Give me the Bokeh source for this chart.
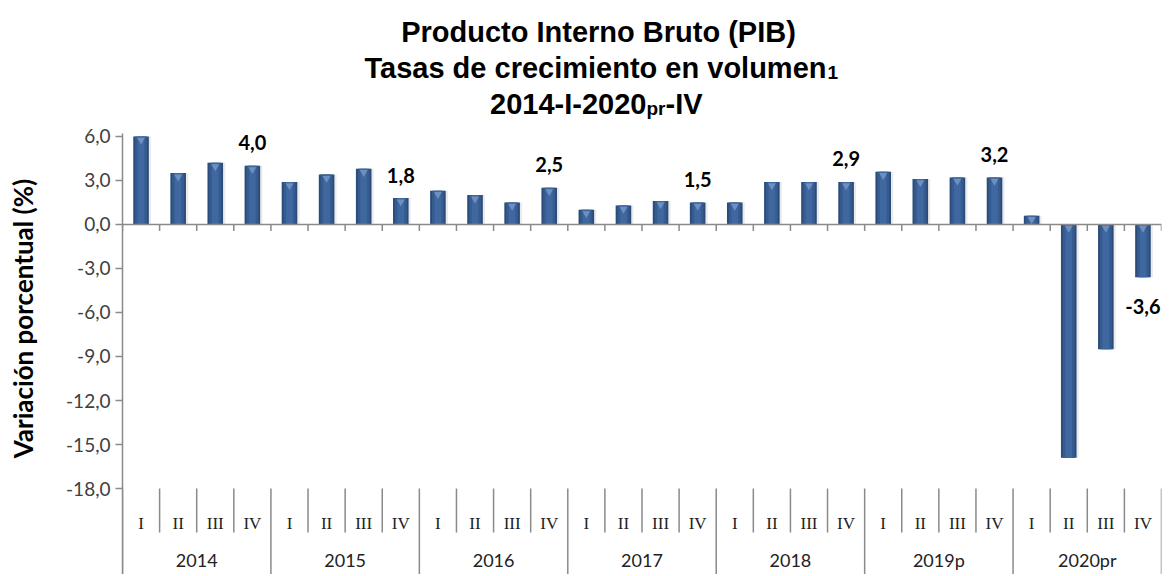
import math
from bokeh.plotting import figure
from bokeh.layouts import column, row
from bokeh.models import FactorRange, Range1d, FixedTicker, Span, ColumnDataSource
from bokeh.transform import dodge
from bokeh.embed import file_html
from bokeh.resources import INLINE
from bokeh.core.properties import value

# ---------------- data ----------------
years = ["2014", "2015", "2016", "2017", "2018", "2019p", "2020pr"]
quarters = ["I", "II", "III", "IV"]
growth = [
    6.0, 3.5, 4.2, 4.0,      # 2014
    2.9, 3.4, 3.8, 1.8,      # 2015
    2.3, 2.0, 1.5, 2.5,      # 2016
    1.0, 1.3, 1.6, 1.5,      # 2017
    1.5, 2.9, 2.9, 2.9,      # 2018
    3.6, 3.1, 3.2, 3.2,      # 2019p
    0.6, -15.9, -8.5, -3.6,  # 2020pr
]
labeled_quarter = "IV"
y_ticks = [6, 3, 0, -3, -6, -9, -12, -15, -18]
y_tick_labels = ["6,0", "3,0", "0,0", "-3,0", "-6,0", "-9,0", "-12,0", "-15,0", "-18,0"]
title_line1 = "Producto Interno Bruto (PIB)"
title_line2 = "Tasas de crecimiento en volumen"
title_line2_sub = "1"
title_line3_a = "2014-I-2020"
title_line3_sub = "pr"
title_line3_b = "-IV"
y_title = "Variación porcentual  (%)"

# ---------------- layout constants ----------------
TOTAL_W = 1168
TITLE_H = 123
BODY_H = 451
YLAB_W = 44
MAIN_W = TOTAL_W - YLAB_W
Y_LO, Y_HI = -23.86, 6.2
Y_AXIS_MIN = -18
AX = "#8a8a8a"

# ---------------- title figure ----------------
t = figure(width=TOTAL_W, height=TITLE_H, x_range=Range1d(0, TOTAL_W),
           y_range=Range1d(TITLE_H, 0), x_axis_type=None, y_axis_type=None,
           output_backend="svg", toolbar_location=None,
           min_border_left=0, min_border_right=0, min_border_top=0, min_border_bottom=0)
t.outline_line_color = None
t.xgrid.visible = False
t.ygrid.visible = False

def ttext(txt, x, y, size, align):
    t.text(x=[x], y=[y], text=[txt], text_font=value("Liberation Sans"),
           text_font_style="bold", text_font_size=size, text_color="black",
           text_align=align, text_baseline="alphabetic")

ttext(title_line1, 598, 31, "29px", "center")
ttext(title_line2, 826, 67, "29px", "right")
ttext(title_line2_sub, 827, 72, "19px", "left")
ttext(title_line3_a, 646, 103, "29px", "right")
ttext(title_line3_sub, 646, 108, "19px", "left")
ttext(title_line3_b, 665, 103, "29px", "left")

# ---------------- y-title figure ----------------
yl = figure(width=YLAB_W, height=BODY_H, x_range=Range1d(0, YLAB_W),
            y_range=Range1d(0, BODY_H), x_axis_type=None, y_axis_type=None,
            output_backend="svg", toolbar_location=None,
            min_border_left=0, min_border_right=0, min_border_top=0, min_border_bottom=0)
yl.outline_line_color = None
yl.xgrid.visible = False
yl.ygrid.visible = False
yl.text(x=[22], y=[265], text=[y_title], angle=math.pi / 2,
        text_font=value("Lato"), text_font_style="bold", text_font_size="26px",
        text_color="black", text_align="center", text_baseline="middle")

# ---------------- main figure ----------------
factors = [(y, q) for y in years for q in quarters]

p = figure(
    width=MAIN_W, height=BODY_H,
    x_range=FactorRange(factors=factors, range_padding=0, factor_padding=0,
                        group_padding=0, subgroup_padding=0),
    y_range=Range1d(Y_LO, Y_HI),
    output_backend="svg", toolbar_location=None,
    min_border_left=78, min_border_right=7, min_border_top=10, min_border_bottom=0,
)
p.outline_line_color = None
p.xgrid.visible = False
p.ygrid.visible = False
p.xaxis.visible = False

yax = p.yaxis[0]
yax.ticker = FixedTicker(ticks=y_ticks)
yax.major_label_overrides = {tk: lb for tk, lb in zip(y_ticks, y_tick_labels)}
yax.axis_line_color = AX
yax.axis_line_width = 1.5
yax.major_tick_line_color = AX
yax.major_tick_line_width = 1.5
yax.major_tick_out = 7
yax.major_tick_in = 0
yax.minor_tick_line_color = None
yax.major_label_standoff = 5
yax.major_label_text_font = "Lato"
yax.major_label_text_font_size = "19px"
yax.major_label_text_color = "#404040"

# ---------------- bars ----------------
tops = [max(v, 0) for v in growth]
bottoms = [min(v, 0) for v in growth]
src = ColumnDataSource(dict(x=factors, v=growth, top=tops, bottom=bottoms,
                            cap=[tp - 0.25 for tp in tops]))

p.vbar(x=dodge("x", 0.04, range=p.x_range), top="top", bottom="bottom", width=0.46,
       source=src, fill_color="#9a9a9a", fill_alpha=0.2, line_color=None)
p.vbar(x="x", top="top", bottom="bottom", width=0.42, source=src,
       fill_color="#2a4c7c", line_color=None)
p.vbar(x="x", top="top", bottom="bottom", width=0.32, source=src,
       fill_color="#365c8f", line_color=None)
p.vbar(x="x", top="top", bottom="bottom", width=0.18, source=src,
       fill_color="#4068a0", line_color=None)
p.scatter(x="x", y="cap", source=src, marker="inverted_triangle", size=8,
          fill_color="#7d9ccd", fill_alpha=0.75, line_color=None)

# zero line
p.add_layout(Span(location=0, dimension="width", line_color=AX, line_width=1.5))

# tick marks on the zero line at every slot boundary
p.segment(x0=dodge("x", -0.5, range=p.x_range), x1=dodge("x", -0.5, range=p.x_range),
          y0="y0", y1="y1",
          source=ColumnDataSource(dict(x=factors, y0=[0] * len(factors),
                                       y1=[-0.45] * len(factors))),
          line_color=AX, line_width=1.5)
p.segment(x0=dodge("x", 0.5, range=p.x_range), x1=dodge("x", 0.5, range=p.x_range),
          y0="y0", y1="y1",
          source=ColumnDataSource(dict(x=[factors[-1]], y0=[0], y1=[-0.45])),
          line_color=AX, line_width=1.5)

# ---------------- category labels with separators ----------------
q_sep = [(y, q) for y in years for q in quarters[1:]]
p.segment(x0=dodge("x", -0.5, range=p.x_range), x1=dodge("x", -0.5, range=p.x_range),
          y0="y0", y1="y1",
          source=ColumnDataSource(dict(x=q_sep, y0=[Y_AXIS_MIN] * len(q_sep),
                                       y1=[-21.0] * len(q_sep))),
          line_color=AX, line_width=1.5)
y_sep = [(y, quarters[0]) for y in years]
p.segment(x0=dodge("x", -0.5, range=p.x_range), x1=dodge("x", -0.5, range=p.x_range),
          y0="y0", y1="y1",
          source=ColumnDataSource(dict(x=y_sep, y0=[Y_AXIS_MIN] * len(y_sep),
                                       y1=[Y_LO] * len(y_sep))),
          line_color=AX, line_width=1.5)
p.segment(x0=dodge("x", 0.5, range=p.x_range), x1=dodge("x", 0.5, range=p.x_range),
          y0="y0", y1="y1",
          source=ColumnDataSource(dict(x=[factors[-1]], y0=[Y_AXIS_MIN], y1=[Y_LO])),
          line_color=AX, line_width=1.5)

p.text(x="x", y="y", text="t",
       source=ColumnDataSource(dict(x=factors, y=[-20.39] * len(factors),
                                    t=[q for _, q in factors])),
       text_font=value("Liberation Serif"), text_font_size="17px", text_color="#222222",
       text_align="center", text_baseline="middle")
p.text(x=dodge("x", 0.5, range=p.x_range), y="y", text="t",
       source=ColumnDataSource(dict(x=[(y, "II") for y in years], y=[-22.9] * len(years),
                                    t=years)),
       text_font=value("Lato"), text_font_size="18px", text_color="#222222",
       text_align="center", text_baseline="middle")

# ---------------- data labels ----------------
lab = [(f, v) for f, v in zip(factors, growth) if f[1] == labeled_quarter]
lab_src = ColumnDataSource(dict(
    x=[f for f, _ in lab], y=[v for _, v in lab],
    t=[f"{v:.1f}".replace(".", ",") for _, v in lab],
    off=[-23 if v >= 0 else 29 for _, v in lab],
))
p.text(x="x", y="y", text="t", y_offset="off", source=lab_src,
       text_font=value("Lato"), text_font_style="bold", text_font_size="20px",
       text_color="black", text_align="center", text_baseline="middle")

layout = column(t, row(yl, p, spacing=0), spacing=0)
open("out.html", "w").write(file_html(layout, INLINE))
